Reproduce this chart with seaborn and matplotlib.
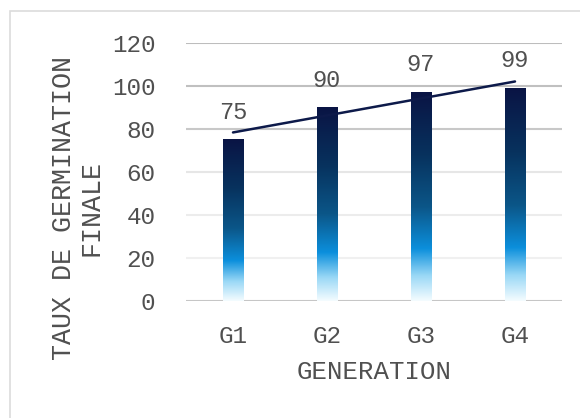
import numpy as np
import pandas as pd
import matplotlib
matplotlib.use("Agg")
import matplotlib.pyplot as plt
import seaborn as sns
from matplotlib.colors import LinearSegmentedColormap
from matplotlib.patches import Rectangle

# data
generations = ["G1", "G2", "G3", "G4"]
taux = [75, 90, 97, 99]

df = pd.DataFrame({"generation": generations, "taux": taux})

sns.set_style("white")
plt.rcParams["font.family"] = ["Liberation Mono", "DejaVu Sans Mono"]
text_col = "#505050"

fig = plt.figure(figsize=(5.8, 4.18), dpi=100)
ax = fig.add_axes([186 / 580, 1 - 301 / 418, 376 / 580, 258 / 418])

# light outer frame like the Excel chart area
fig.patches.append(Rectangle((10 / 580, -0.05), 1.1, 1.05 - 11 / 418, transform=fig.transFigure,
                             fill=False, edgecolor="#dcdcdc", lw=1.2, zorder=0))

sns.barplot(df, x="generation", y="taux", ax=ax, width=0.22, color="#0a1a4a", zorder=2)

# gradient fill of each bar: white at bottom, bright blue, then navy at top
grad = LinearSegmentedColormap.from_list("germ", [
    (0.0, "#f4fcff"), (0.12, "#9ad8f6"), (0.25, "#0b8fdc"),
    (0.45, "#0b5688"), (0.7, "#07325e"), (1.0, "#0a1444")])
for p in list(ax.patches):
    x0, y0 = p.get_x(), p.get_y()
    w, h = p.get_width(), p.get_height()
    p.set_facecolor("none")
    p.set_edgecolor("none")
    g = np.linspace(0, 1, 256).reshape(-1, 1)
    ax.imshow(g, cmap=grad, origin="lower", aspect="auto",
              extent=(x0, x0 + w, y0, y0 + h), zorder=2, interpolation="bilinear")
ax.set_xlim(-0.5, 3.5)
ax.set_ylim(0, 120)

# value labels
for i, v in enumerate(taux):
    ax.annotate(str(v), (i, v), xytext=(0, 11.5), textcoords="offset points",
                ha="center", va="bottom", fontsize=17, color=text_col)

# linear trendline
xs = np.arange(len(taux))
k, b = np.polyfit(xs, taux, 1)
ax.plot([xs[0], xs[-1]], [k * xs[0] + b, k * xs[-1] + b], color="#0d1a4a", lw=1.8, zorder=3)

# gridlines
ax.set_yticks(range(0, 121, 20))
grid_cols = ["#c6c6c6", "#f0f0f0", "#ececec", "#e6e6e6", "#c8c8c8", "#c0c0c0", "#bdbdbd"]
for yv, c in zip(range(0, 121, 20), grid_cols):
    ax.axhline(yv, color=c, lw=1.5, zorder=1)

sns.despine(ax=ax, left=True, bottom=True)
ax.tick_params(axis="both", length=0, labelsize=17.5, labelcolor=text_col)
ax.tick_params(axis="y", pad=22)
ax.tick_params(axis="x", pad=17)
ax.set_xlabel("GENERATION", fontsize=18.5, color=text_col, labelpad=9)
ax.set_ylabel("")
fig.text(78 / 580, 1 - 208 / 418, "TAUX DE GERMINATION\nFINALE", rotation=90,
         ha="center", va="center", multialignment="center", fontsize=19.2,
         color=text_col, linespacing=1.05)

fig.savefig("out.png", dpi=100)
